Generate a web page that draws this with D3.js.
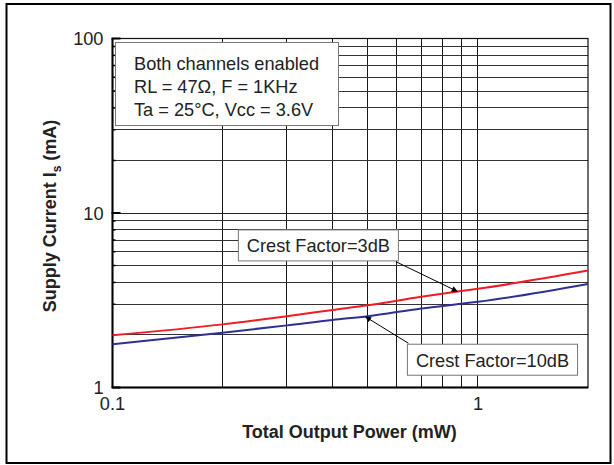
<!DOCTYPE html>
<html>
<head>
<meta charset="utf-8">
<script src="https://cdn.jsdelivr.net/npm/d3@7/dist/d3.min.js"></script>
<style>
  html, body { margin: 0; padding: 0; background: #fff; }
  svg { display: block; font-family: "Liberation Sans", Arial, Helvetica, sans-serif; }
</style>
</head>
<body>
<svg id="chart" width="614" height="465"></svg>
<script>
// Total output power (mW) sample points
const power = [0.1, 0.2, 0.3, 0.4, 0.5, 0.7, 0.9, 1, 2];
// Supply current (mA) for each crest factor
const crest3dB = [1.99, 2.30, 2.56, 2.78, 2.96, 3.31, 3.57, 3.68, 4.68];
const crest10dB = [1.77, 2.06, 2.27, 2.44, 2.56, 2.84, 3.02, 3.10, 3.92];

const xTickValues = [0.1, 1];
const xTickLabels = ["0.1", "1"];
const yTickValues = [1, 10, 100];
const yTickLabels = ["1", "10", "100"];

const conditionLines = [
  "Both channels enabled",
  "RL = 47\u03A9, F = 1KHz",
  "Ta = 25\u00B0C, Vcc = 3.6V"
];

// Callouts: label, box corner (data units), arrow target on the curve
const callouts = [
  { label: "Crest Factor=3dB", series: 0, boxX: 0.221, boxY: 8.0, from: "bottom-right", targetX: 0.88 },
  { label: "Crest Factor=10dB", series: 1, boxX: 0.641, boxY: 1.77, from: "top-left", targetX: 0.491 }
];

const seriesColors = ["#ee1c25", "#2e3192"];
const seriesValues = [crest3dB, crest10dB];

const svg = d3.select("#chart");
const plot = { left: 112.5, right: 588, top: 38.5, bottom: 387.5 };
const labelSize = 18.2;

const x = d3.scaleLog().domain([0.1, 2]).range([plot.left, plot.right]);
const y = d3.scaleLog().domain([1, 100]).range([plot.bottom, plot.top]);

// Outer frame
svg.append("rect")
  .attr("x", 6.5).attr("y", 4).attr("width", 604).attr("height", 459)
  .attr("fill", "none").attr("stroke", "#000").attr("stroke-width", 2);

// Grid
const grid = svg.append("g").attr("shape-rendering", "crispEdges");
const xGrid = [0.2, 0.3, 0.4, 0.5, 0.6, 0.7, 0.8, 0.9, 1];
const yGrid = [2, 3, 4, 5, 6, 7, 8, 9, 10, 20, 30, 40, 50, 60, 70, 80, 90];
grid.selectAll("line.vx").data(xGrid).join("line")
  .attr("x1", d => x(d)).attr("x2", d => x(d))
  .attr("y1", plot.top).attr("y2", plot.bottom)
  .attr("stroke", "#1a1a1a").attr("stroke-width", 1);
grid.selectAll("line.hy").data(yGrid).join("line")
  .attr("y1", d => y(d)).attr("y2", d => y(d))
  .attr("x1", plot.left).attr("x2", plot.right)
  .attr("stroke", d => (d === 10 ? "#222" : "#333")).attr("stroke-width", 1);

// Plot border
svg.append("rect")
  .attr("x", plot.left).attr("y", plot.top)
  .attr("width", plot.right - plot.left).attr("height", plot.bottom - plot.top)
  .attr("fill", "none").attr("stroke", "#111").attr("stroke-width", 1.2);
svg.append("line")
  .attr("x1", plot.left).attr("x2", plot.right)
  .attr("y1", plot.bottom).attr("y2", plot.bottom)
  .attr("stroke", "#000").attr("stroke-width", 2);
svg.append("line")
  .attr("x1", plot.left).attr("x2", plot.left)
  .attr("y1", plot.top).attr("y2", plot.bottom)
  .attr("stroke", "#000").attr("stroke-width", 2);

// Inward ticks on the left axis
const yMinor = d3.range(2, 100).filter(v => v < 10 || v % 10 === 0);
svg.append("g").selectAll("line").data(yMinor).join("line")
  .attr("x1", plot.left).attr("x2", plot.left + 3)
  .attr("y1", d => y(d)).attr("y2", d => y(d))
  .attr("stroke", "#000").attr("stroke-width", 1.5);
svg.append("g").selectAll("line").data(yTickValues).join("line")
  .attr("x1", plot.left - 1).attr("x2", plot.left + 8)
  .attr("y1", d => y(d)).attr("y2", d => y(d))
  .attr("stroke", "#000").attr("stroke-width", 2);

// Tick labels
svg.append("g").selectAll("text").data(yTickValues).join("text")
  .attr("x", 103.5).attr("y", d => y(d) + 6.5)
  .attr("text-anchor", "end").attr("font-size", labelSize).attr("fill", "#222")
  .text((d, i) => yTickLabels[i]);
svg.append("g").selectAll("text").data(xTickValues).join("text")
  .attr("x", d => x(d)).attr("y", 409.5)
  .attr("text-anchor", "middle").attr("font-size", labelSize).attr("fill", "#222")
  .text((d, i) => xTickLabels[i]);

// Axis titles
svg.append("text")
  .attr("x", 349.5).attr("y", 438)
  .attr("text-anchor", "middle").attr("font-size", 18).attr("font-weight", "bold").attr("fill", "#222")
  .text("Total Output Power (mW)");
const yTitle = svg.append("text")
  .attr("transform", "translate(56,216) rotate(-90)")
  .attr("text-anchor", "middle").attr("font-size", 18).attr("font-weight", "bold").attr("fill", "#222");
yTitle.append("tspan").text("Supply Current I");
yTitle.append("tspan").attr("font-size", 12).attr("dy", 5).text("s");
yTitle.append("tspan").attr("dy", -5).text(" (mA)");

// Curves
const line = d3.line()
  .x(d => x(d[0]))
  .y(d => y(d[1]))
  .curve(d3.curveMonotoneX);
seriesValues.forEach((vals, i) => {
  svg.append("path")
    .datum(power.map((p, j) => [p, vals[j]]))
    .attr("d", line)
    .attr("fill", "none")
    .attr("stroke", seriesColors[i])
    .attr("stroke-width", 2);
});

// Condition box
const condBox = svg.append("g");
condBox.append("rect")
  .attr("x", 115.5).attr("y", 42.5).attr("width", 223).attr("height", 83)
  .attr("fill", "#fff").attr("stroke", "#777").attr("stroke-width", 1);
condBox.selectAll("text").data(conditionLines).join("text")
  .attr("x", 134).attr("y", (d, i) => 69.5 + i * 23)
  .attr("font-size", labelSize).attr("fill", "#222")
  .text(d => d);

// Arrowhead
svg.append("defs").append("marker")
  .attr("id", "arrow").attr("viewBox", "0 0 10 10")
  .attr("refX", 10).attr("refY", 5)
  .attr("markerWidth", 8).attr("markerHeight", 6)
  .attr("orient", "auto").attr("markerUnits", "userSpaceOnUse")
  .append("path").attr("d", "M0,0 L10,5 L0,10 z").attr("fill", "#000");

// Interpolated current on a curve in log-log space
function currentAt(vals, p) {
  const lx = power.map(Math.log10), ly = vals.map(Math.log10);
  const t = Math.log10(p);
  let k = 0;
  while (k < lx.length - 2 && t > lx[k + 1]) k++;
  const f = (t - lx[k]) / (lx[k + 1] - lx[k]);
  return Math.pow(10, ly[k] + f * (ly[k + 1] - ly[k]));
}

callouts.forEach(c => {
  const g = svg.append("g");
  const bx = x(c.boxX), by = y(c.boxY);
  const txt = g.append("text")
    .attr("x", bx + 8.5).attr("y", by + 22.5)
    .attr("font-size", labelSize).attr("fill", "#222")
    .text(c.label);
  const w = txt.node().getComputedTextLength() + 17;
  const h = 31;
  g.insert("rect", "text")
    .attr("x", bx).attr("y", by).attr("width", w).attr("height", h)
    .attr("fill", "#fff").attr("stroke", "#777").attr("stroke-width", 1);
  const sx = c.from === "bottom-right" ? bx + w - 2 : bx + 1;
  const sy = c.from === "bottom-right" ? by + h + 1 : by - 1;
  const tx = x(c.targetX), ty = y(currentAt(seriesValues[c.series], c.targetX));
  svg.append("line")
    .attr("x1", sx).attr("y1", sy).attr("x2", tx).attr("y2", ty)
    .attr("stroke", "#000").attr("stroke-width", 1)
    .attr("marker-end", "url(#arrow)");
});
</script>
</body>
</html>
